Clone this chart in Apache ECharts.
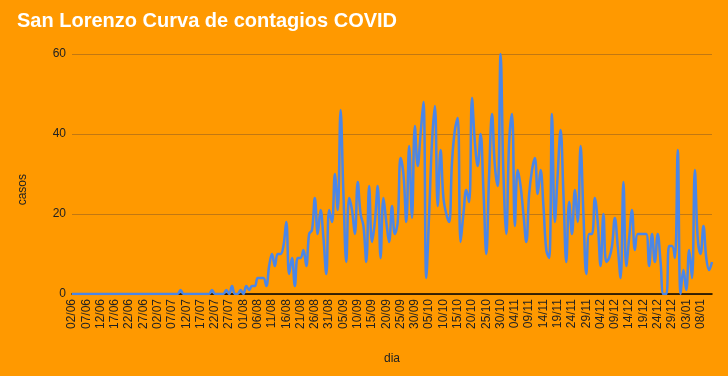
<!DOCTYPE html>
<html>
<head>
<meta charset="utf-8">
<script src="https://cdn.jsdelivr.net/npm/echarts@6/dist/echarts.min.js"></script>
<style>
html,body{margin:0;padding:0;background:#ff9900;}
#chart{width:728px;height:376px;}
</style>
</head>
<body>
<div id="chart"></div>
<script>
// Daily categories: 02/06/2020 .. 12/01/2021
var startDate = [2020, 5, 2];
var dayCount = 225;
var categories = [];
(function(){
  var d = new Date(Date.UTC(startDate[0], startDate[1], startDate[2]));
  for (var i = 0; i < dayCount; i++) {
    var dd = String(d.getUTCDate()).padStart(2,'0');
    var mm = String(d.getUTCMonth()+1).padStart(2,'0');
    categories.push(dd + '/' + mm);
    d.setUTCDate(d.getUTCDate()+1);
  }
})();

// casos por dia
var casos = [
  0,0,0,0,0,0,0,0,0,0, 0,0,0,0,0,0,0,0,0,0,
  0,0,0,0,0,0,0,0,0,0, 0,0,0,0,0,0,0,0,1,0,
  0,0,0,0,0,0,0,0,0,1, 0,0,0,0,1,0,2,0,0,1,
  0,2,1,2,2,4,4,4,2,7, 10,7,10,10,12,18,5,9,2,9,
  9,11,7,15,16,24,15,21,14,5, 21,18,30,21,46,25,8,24,21,15,
  28,20,17,8,27,13,18,27,9,24, 18,13,22,15,18,34,30,18,37,19,
  42,32,40,48,4,20,38,47,22,36, 24,20,18,33,41,44,13,20,26,23,
  49,38,32,40,26,10,30,45,32,27, 60,30,15,38,45,17,31,27,20,13,
  25,31,34,25,31,22,11,9,45,18, 30,41,25,8,23,15,26,18,37,20,
  5,15,15,24,18,7,20,8,9,12, 19,12,4,28,7,14,21,11,15,15,
  15,15,7,15,8,15,8,0,0,12, 12,9,36,0,6,1,11,4,31,14,
  10,17,9,6,8
];

var yTicks = [0, 20, 40, 60];

var chart = echarts.init(document.getElementById('chart'), null, {renderer:'canvas'});
chart.setOption({
  backgroundColor: '#ff9900',
  animation: false,
  title: {
    text: 'San Lorenzo Curva de contagios COVID',
    left: 12,
    top: 6,
    textStyle: {color:'#ffffff', fontFamily:'Liberation Sans', fontWeight:'bold', fontSize:20}
  },
  grid: {left:72, right:16, top:54, bottom:82, containLabel:false},
  xAxis: {
    type: 'category',
    data: categories,
    boundaryGap: false,
    name: 'dia',
    nameLocation: 'middle',
    nameGap: 59,
    nameTextStyle: {color:'#222', fontFamily:'Liberation Sans', fontSize:12},
    axisLine: {show:true, lineStyle:{color:'#000', width:1.5}},
    axisTick: {show:false},
    axisLabel: {
      interval: 4,
      rotate: 90,
      color: '#222',
      fontFamily: 'Liberation Sans',
      fontSize: 12,
      margin: 5
    },
    splitLine: {show:false}
  },
  yAxis: {
    type: 'value',
    min: yTicks[0],
    max: yTicks[yTicks.length-1],
    interval: 20,
    axisLine: {show:false},
    axisTick: {show:false},
    axisLabel: {color:'#222', fontFamily:'Liberation Sans', fontSize:12, margin:6},
    splitLine: {lineStyle:{color:'#c27812', width:1}}
  },
  graphic: [{
    type: 'text',
    left: 17,
    top: 174,
    rotation: Math.PI/2,
    style: {text:'casos', fill:'#222', font:'12px "Liberation Sans"'}
  }],
  series: [{
    type: 'line',
    data: casos,
    smooth: 0.4,
    showSymbol: false,
    symbol: 'none',
    lineStyle: {color:'#4a86e8', width:2.5},
    clip: true,
    z: 3
  }]
});
</script>
</body>
</html>
